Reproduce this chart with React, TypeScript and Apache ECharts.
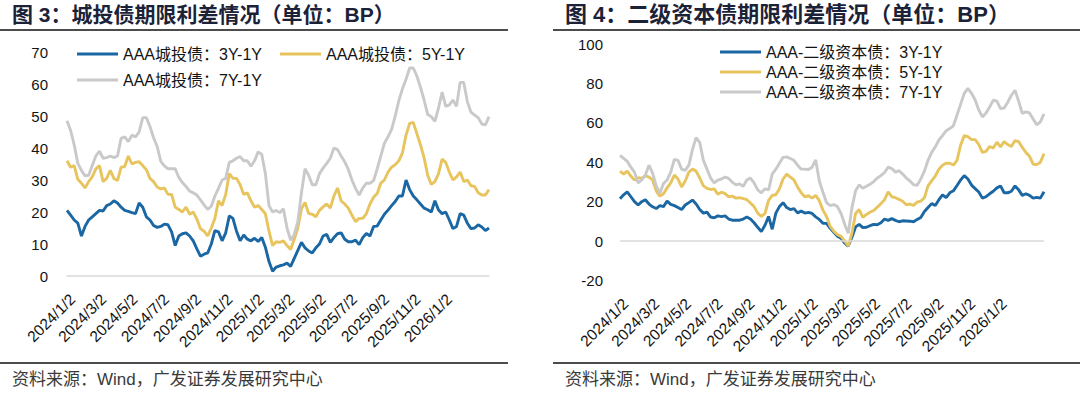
import React, { useEffect, useRef } from "react";
import * as echarts from "echarts";

const DAY = 86400000;
const parseDate = (s: string) => {
  const [y, m, d] = s.split("/").map(Number);
  return Date.UTC(y, m - 1, d);
};
const START = parseDate("2024/1/2");
const END = parseDate("2026/3/31");
const toDays = (t: number) => Math.round((t - START) / DAY);
// weekly sampling positions (days since 2024/1/2)
const weekDays: number[] = Array.from({ length: 118 }, (_, i) => i * 7);

const xLabels = [
  "2024/1/2", "2024/3/2", "2024/5/2", "2024/7/2", "2024/9/2", "2024/11/2",
  "2025/1/2", "2025/3/2", "2025/5/2", "2025/7/2", "2025/9/2", "2025/11/2", "2026/1/2",
];

const cityNames = ["AAA城投债：3Y-1Y", "AAA城投债：5Y-1Y", "AAA城投债：7Y-1Y"];
const capNames = ["AAA-二级资本债：3Y-1Y", "AAA-二级资本债：5Y-1Y", "AAA-二级资本债：7Y-1Y"];

const city3Y = [
  20.5, 19.0, 17.5, 16.5, 12.5, 15.5, 17.5, 18.5, 19.5, 20.5,
  20.3, 22, 22.5, 23.5, 22.8, 21.5, 20.5, 20.2, 19.8, 19.5,
  22.8, 21.5, 18.5, 17.5, 15.8, 15.2, 15.5, 16.2, 16, 13.8,
  9.5, 12.5, 13.2, 13.5, 12.5, 11, 8.5, 6.2, 6.8, 7.2,
  10, 14.2, 13.8, 11, 13.5, 18.8, 18, 14, 11, 12.8,
  11.5, 11, 11.8, 10.8, 12, 9, 4.5, 1.5, 2.8, 3.2,
  3.5, 4, 3, 5.5, 8, 10.5, 8.8, 7.8, 7.2, 8.8,
  10, 12.5, 13, 10.5, 12, 13.2, 13.5, 11.5, 10.7, 10.7,
  11.2, 9.8, 12, 13.3, 12.5, 15.5, 15.6, 17.5, 19.3, 20.6,
  22, 23.3, 25, 25, 30, 27, 25, 23.8, 22.5, 21.2,
  20.7, 20, 23.5, 20.6, 19.5, 20, 17.5, 14.8, 15.5, 19.5,
  19, 16.5, 14.8, 15, 16, 15.3, 14.2, 15,
];
const city5Y = [
  36, 34, 34.5, 30.2, 29, 27.5, 29.5, 31, 33.5, 34.5,
  29.5, 30.5, 33, 30.5, 29.8, 34, 34.2, 37.5, 35, 35.5,
  35.7, 34.5, 33.2, 30.5, 29.5, 27.8, 27.2, 27.5, 25.5, 25.5,
  21.5, 20.8, 20, 21.5, 19.3, 20, 17.8, 14.8, 14, 12.5,
  15, 18, 23.5, 22, 25.5, 32, 30.5, 30.5, 28.5, 25.5,
  26, 23.5, 21.5, 22, 20.8, 19.5, 14, 9.5, 10.7, 10.5,
  11, 9.5, 8.3, 11.5, 15, 21, 23, 19.5, 19.3, 18.5,
  20.5, 21.6, 22.5, 21.2, 25, 27.5, 23.5, 22.5, 21.2, 19,
  17, 18, 18, 19.5, 22.5, 24.6, 25.8, 29, 30, 32.5,
  34, 34.8, 36, 38.5, 44, 47.7, 48, 44.5, 41, 37,
  31.5, 28.6, 29.5, 32, 36.5, 35.5, 32.5, 30, 31, 32.5,
  29.5, 30, 28.2, 28, 26, 25.3, 25.3, 27,
];
const city7Y = [
  48.5, 45.5, 41, 35.2, 33, 31.3, 31.5, 34.5, 37.5, 39,
  36.8, 37, 37.5, 37, 37.5, 43, 43.5, 42, 44, 43.5,
  45, 49.5, 49.5, 46.7, 43.2, 40.5, 35.8, 34.4, 33.5, 33.5,
  33.5, 30.8, 29.2, 28, 26.5, 26, 25.3, 23.8, 22.2, 20.8,
  21.8, 25, 27.4, 30, 30.5, 35.5, 36, 36.8, 37.3, 36,
  36, 34.3, 36, 38.8, 38, 32, 22, 20, 20.5, 19.8,
  21, 15, 11.2, 13, 17, 26, 33.5, 31.5, 28.5, 28.5,
  32, 33.7, 35.2, 36.8, 40, 39.5, 37.5, 35.7, 33.3, 30,
  27.4, 25.3, 27.5, 29, 29, 29.8, 33.5, 37.5, 41.5, 43.5,
  45.8, 50, 54.8, 58.5, 61.5, 65, 65, 62.5, 59, 55,
  50.5, 49.8, 48.3, 52.5, 57.5, 53, 53.5, 55, 53, 60.5,
  60.5, 54.5, 51.2, 50.3, 49.5, 47.5, 47.2, 49.8,
];

const cap3Y = [
  21.5, 23.5, 25, 22.5, 20, 18.3, 20, 21, 18.8, 17.4,
  16.5, 18, 17.5, 20.3, 18.6, 18, 17, 16, 18.3, 19.5,
  20.8, 18.8, 16, 14.2, 14.7, 12.2, 11.8, 12.8, 12.4, 12.8,
  11.2, 10.6, 10.6, 10.6, 11.2, 12.2, 11.2, 9.3, 7, 4.8,
  8, 12.5, 6, 14.2, 17.5, 19.5, 17, 16, 16.5, 14.3,
  15.2, 14.2, 14.6, 14, 12.3, 11, 9, 9, 6.5, 4.5,
  2.5, 1.5, -1, -2.5, 2, 7.2, 8.5, 6.8, 7, 7.8,
  8.5, 8.3, 9.3, 11.2, 10.5, 11.4, 10.5, 9.8, 10.3, 10.2,
  10.1, 9.8, 11, 12, 15, 17, 19, 18.1, 21, 23.5,
  22, 24.5, 25.5, 28.2, 31, 33.2, 31.5, 28.4, 26.6, 24.9,
  21.8, 22.5, 24, 25.3, 27, 28, 24.5, 24.5, 25.3, 28,
  26, 23.2, 24, 23.2, 21.8, 22.2, 21.8, 25,
];
const cap5Y = [
  35.5, 34, 35.5, 33, 31, 32.2, 31.8, 33.2, 32.5, 31,
  25.5, 22.8, 24, 27, 29.5, 33.5, 31.5, 27.5, 30.5, 35,
  36.5, 35.5, 32, 28, 26.8, 26.2, 26.5, 23.8, 24.8, 24.1,
  22.4, 22.8, 21.8, 22, 21.5, 21, 19.3, 17.5, 14.2, 12.5,
  14, 20.7, 23.2, 23.5, 26.5, 31.5, 34, 32.5, 31, 27.5,
  24.5, 22.5, 23, 21.8, 23.2, 20.5, 15.7, 12.5, 7.5, 5,
  3.3, 2.4, 0, -2.5, 4, 14, 16, 12, 13.5, 14.7,
  15.5, 17.2, 19, 21, 25, 22.5, 22, 21.2, 20.2, 18.4,
  18.8, 18.1, 19.8, 20.3, 22, 28, 30.5, 33, 36.5, 38.5,
  39.5, 39.5, 38.6, 41, 48.8, 53.5, 53, 51.5, 51.5, 49,
  45, 45.5, 48, 47.2, 50.2, 47.8, 50.5, 49, 48, 51,
  50.5, 47.5, 45, 43, 39, 38.8, 40, 44.4,
];
const cap7Y = [
  43.5, 42, 40.5, 37.5, 35, 29.5, 31, 33.5, 38.5, 34.5,
  28, 24.3, 29.2, 31, 35, 41.5, 41, 36.5, 35.9, 38.5,
  46.5, 52.5, 50, 41, 36.5, 32, 29.5, 30.9, 31.5, 32.5,
  31.8, 29.8, 28.5, 29, 27.8, 31, 32, 29.5, 26, 24.5,
  26.5, 26, 34, 36.5, 39.5, 42.5, 42.7, 41.9, 41, 38.5,
  36.5, 36.5, 36.3, 37.5, 41.2, 30.5, 24.8, 19.5, 18, 18.5,
  17.5, 14, 8.5, 4, 17, 25.5, 28.5, 26.8, 27.8, 28.8,
  30.2, 32, 33.2, 34.8, 37.5, 36.8, 35, 35.7, 34, 32,
  30.5, 28.6, 28.3, 31.5, 35.5, 41, 45, 47.8, 51.3, 53.5,
  56, 57.1, 58.5, 64, 69.5, 75, 77.5, 75, 71.6, 66.5,
  63, 65, 68, 71.5, 71, 67.2, 67.5, 70.5, 74, 76.5,
  71, 64.8, 65.6, 65, 62, 59, 60.5, 64.5,
];

const COLORS = ["#1a67a3", "#e7c45e", "#c9c9c9"];
const FONT = "'Liberation Sans', Arial, 'Noto Sans CJK SC', sans-serif";
const TEXT = "#141414";

const fmtDay = (v: number) => {
  const d = new Date(START + Math.round(v) * DAY);
  return `${d.getUTCFullYear()}/${d.getUTCMonth() + 1}/${d.getUTCDate()}`;
};

function makeSeries(name: string, values: number[], idx: number, color: string, extra: any = {}) {
  return {
    name,
    type: "line",
    xAxisIndex: idx,
    yAxisIndex: idx,
    data: weekDays.map((t, i) => [t, values[i]]),
    symbol: "none",
    showSymbol: false,
    lineStyle: { color, width: 2.9 },
    itemStyle: { color },
    ...extra,
  };
}

function legendItem(name: string, left: number, centerY: number) {
  return {
    data: [name],
    left,
    top: centerY - 8,
    padding: 0,
    icon: "rect",
    itemWidth: 41,
    itemHeight: 3,
    selectedMode: false,
    textStyle: { fontSize: 16, color: TEXT, fontFamily: FONT },
  };
}

function xAxisFor(gridIndex: number, margin: number, showLine: boolean) {
  return {
    gridIndex,
    type: "value",
    min: 0,
    max: toDays(END),
    axisLine: { show: showLine, onZero: false, lineStyle: { color: "#d9d9d9", width: 1.5 } },
    axisTick: { show: false },
    splitLine: { show: false },
    axisLabel: {
      customValues: xLabels.map((s) => toDays(parseDate(s))),
      formatter: (v: number) => fmtDay(v),
      rotate: 45,
      margin,
      verticalAlign: "top",
      fontSize: 15.5,
      color: TEXT,
      fontFamily: FONT,
      hideOverlap: false,
    },
  };
}

function yAxisFor(gridIndex: number, min: number, max: number, interval: number, margin: number) {
  return {
    gridIndex,
    type: "value",
    min,
    max,
    interval,
    axisLine: { show: false },
    axisTick: { show: false },
    splitLine: { show: false },
    axisLabel: { margin, fontSize: 15, color: TEXT, fontFamily: FONT },
  };
}

export default function App() {
  const ref = useRef<HTMLDivElement>(null);
  useEffect(() => {
    if (!ref.current) return;
    const chart = echarts.init(ref.current, null, { renderer: "svg" });
    const titleStyle = { fontSize: 21, fontWeight: "bold", fill: "#1b2238", fontFamily: FONT };
    const footStyle = { fontSize: 17, fill: "#3a3a3a", fontFamily: FONT };
    chart.setOption({
      animation: false,
      backgroundColor: "#ffffff",
      grid: [
        { left: 67, top: 52, width: 422, height: 224 },
        { left: 620, top: 44, width: 424, height: 236.5 },
      ],
      xAxis: [xAxisFor(0, 15, true), xAxisFor(1, 15, false)],
      yAxis: [yAxisFor(0, 0, 70, 10, 19), yAxisFor(1, -20, 100, 20, 17)],
      legend: [
        legendItem(cityNames[0], 77, 54),
        legendItem(cityNames[1], 280, 54),
        legendItem(cityNames[2], 77, 80),
        legendItem(capNames[0], 720, 52),
        legendItem(capNames[1], 720, 72),
        legendItem(capNames[2], 720, 92),
      ],
      series: [
        makeSeries(cityNames[0], city3Y, 0, COLORS[0]),
        makeSeries(cityNames[1], city5Y, 0, COLORS[1]),
        makeSeries(cityNames[2], city7Y, 0, COLORS[2]),
        makeSeries(capNames[0], cap3Y, 1, COLORS[0], {
          markLine: {
            silent: true,
            symbol: "none",
            label: { show: false },
            lineStyle: { color: "#d9d9d9", width: 1.5, type: "solid" },
            data: [{ yAxis: 0 }],
          },
        }),
        makeSeries(capNames[1], cap5Y, 1, COLORS[1]),
        makeSeries(capNames[2], cap7Y, 1, COLORS[2]),
      ],
      graphic: [
        { type: "text", x: 12, y: 14, style: { ...titleStyle, text: "图 3：城投债期限利差情况（单位：BP）", verticalAlign: "middle" } },
        { type: "text", x: 565, y: 14, style: { ...titleStyle, fontSize: 22, text: "图 4：二级资本债期限利差情况（单位：BP）", verticalAlign: "middle" } },
        { type: "line", shape: { x1: 0, y1: 30, x2: 508, y2: 30 }, style: { stroke: "#111", lineWidth: 1.5 } },
        { type: "line", shape: { x1: 553, y1: 30, x2: 1080, y2: 30 }, style: { stroke: "#111", lineWidth: 1.5 } },
        { type: "line", shape: { x1: 0, y1: 363, x2: 508, y2: 363 }, style: { stroke: "#111", lineWidth: 1.5 } },
        { type: "line", shape: { x1: 553, y1: 363, x2: 1080, y2: 363 }, style: { stroke: "#111", lineWidth: 1.5 } },
        { type: "text", x: 12, y: 379, style: { ...footStyle, text: "资料来源：Wind，广发证券发展研究中心", verticalAlign: "middle" } },
        { type: "text", x: 565, y: 379, style: { ...footStyle, text: "资料来源：Wind，广发证券发展研究中心", verticalAlign: "middle" } },
      ],
    });
    return () => chart.dispose();
  }, []);
  return (
    <div
      ref={ref}
      style={{ position: "absolute", left: 0, top: 0, width: 1080, height: 394, background: "#fff" }}
    />
  );
}
